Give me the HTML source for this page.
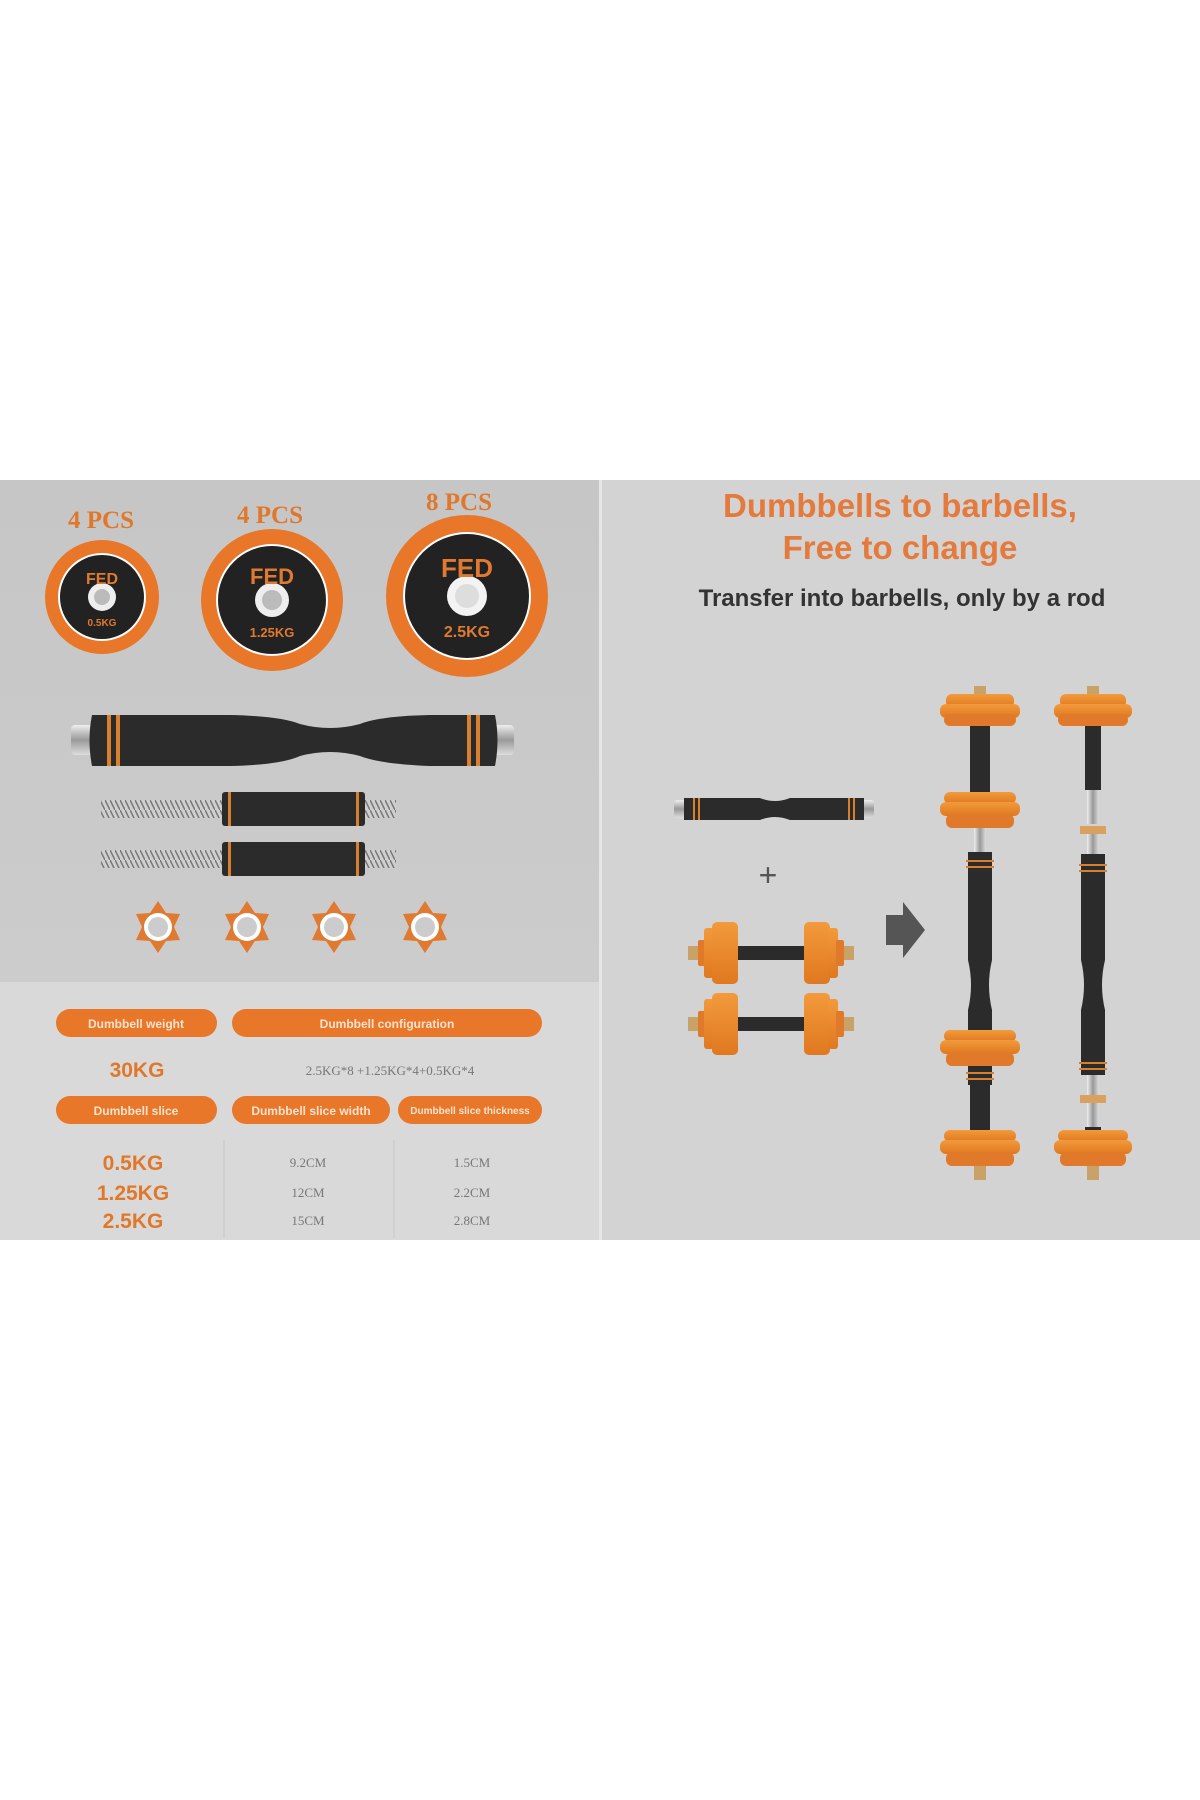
<!DOCTYPE html>
<html><head><meta charset="utf-8"><style>
html,body{margin:0;padding:0;background:#fff;width:1200px;height:1800px;overflow:hidden}
svg{display:block}
</style></head><body>
<svg width="1200" height="1800" viewBox="0 0 1200 1800" xmlns="http://www.w3.org/2000/svg">
<defs>
<linearGradient id="bg" x1="0" y1="0" x2="0" y2="1"><stop offset="0" stop-color="#c6c6c6"/><stop offset="1" stop-color="#cfcfcf"/></linearGradient>
<linearGradient id="or" x1="0" y1="0" x2="0" y2="1"><stop offset="0" stop-color="#f29a3c"/><stop offset="1" stop-color="#e07820"/></linearGradient>
<linearGradient id="chrome" x1="0" y1="0" x2="0" y2="1"><stop offset="0" stop-color="#eee"/><stop offset=".5" stop-color="#999"/><stop offset="1" stop-color="#ddd"/></linearGradient>
<linearGradient id="chromeV" x1="0" y1="0" x2="1" y2="0"><stop offset="0" stop-color="#eee"/><stop offset=".5" stop-color="#999"/><stop offset="1" stop-color="#ddd"/></linearGradient>
<pattern id="thread" width="5" height="10" patternUnits="userSpaceOnUse"><rect width="5" height="10" fill="#cfcfcf"/><line x1="0" y1="0" x2="5" y2="10" stroke="#777" stroke-width="1.5"/></pattern>
</defs>
<rect x="0" y="480" width="600" height="760" fill="url(#bg)"/>
<rect x="0" y="982" width="600" height="258" fill="#d9d9d9"/>
<rect x="602" y="480" width="598" height="760" fill="#d3d3d3"/>
<rect x="599" y="480" width="3" height="760" fill="#e6e6e6"/>

<g font-family="Liberation Serif,serif" font-weight="bold" font-size="25" fill="#e0772a" text-anchor="middle">
<text x="101" y="528">4 PCS</text><text x="270" y="523">4 PCS</text><text x="459" y="510">8 PCS</text>
</g>
<!-- plates -->
<g font-family="Liberation Sans,sans-serif" font-weight="bold" text-anchor="middle" fill="#e07a30">
<circle cx="102" cy="597" r="57" fill="#e8772a"/><circle cx="102" cy="597" r="44" fill="#fff"/><circle cx="102" cy="597" r="42" fill="#222"/><circle cx="102" cy="597" r="14" fill="#eee"/><circle cx="102" cy="597" r="8" fill="#bbb"/>
<text x="102" y="584" font-size="16">FED</text><text x="102" y="626" font-size="10">0.5KG</text>
<circle cx="272" cy="600" r="71" fill="#e8772a"/><circle cx="272" cy="600" r="56" fill="#fff"/><circle cx="272" cy="600" r="54" fill="#222"/><circle cx="272" cy="600" r="17" fill="#eee"/><circle cx="272" cy="600" r="10" fill="#bbb"/>
<text x="272" y="584" font-size="22">FED</text><text x="272" y="637" font-size="13">1.25KG</text>
<circle cx="467" cy="596" r="81" fill="#e8772a"/><circle cx="467" cy="596" r="64" fill="#fff"/><circle cx="467" cy="596" r="62" fill="#222"/><circle cx="467" cy="596" r="20" fill="#f3f3f3"/><circle cx="467" cy="596" r="12" fill="#ddd"/>
<text x="467" y="577" font-size="26">FED</text><text x="467" y="637" font-size="16">2.5KG</text>
</g>
<!-- long bar -->
<rect x="71" y="725" width="30" height="30" rx="4" fill="url(#chrome)"/>
<rect x="484" y="725" width="30" height="30" rx="4" fill="url(#chrome)"/>
<path d="M92 715 L230 715 Q280 716 300 724 Q330 732 360 724 Q380 716 430 715 L495 715 Q500 740 495 766 L430 766 Q380 764 360 756 Q330 748 300 756 Q280 765 230 766 L92 766 Q87 740 92 715Z" fill="#2b2b2b"/>
<g fill="#d9802f"><rect x="107" y="715" width="4" height="51"/><rect x="116" y="715" width="4" height="51"/><rect x="467" y="715" width="4" height="51"/><rect x="476" y="715" width="4" height="51"/></g>
<!-- threaded bars -->
<rect x="101" y="800" width="295" height="18" fill="url(#thread)"/>
<rect x="222" y="792" width="143" height="34" rx="3" fill="#2b2b2b"/><rect x="228" y="792" width="3" height="34" fill="#d9802f"/><rect x="356" y="792" width="3" height="34" fill="#d9802f"/>
<rect x="101" y="850" width="295" height="18" fill="url(#thread)"/>
<rect x="222" y="842" width="143" height="34" rx="3" fill="#2b2b2b"/><rect x="228" y="842" width="3" height="34" fill="#d9802f"/><rect x="356" y="842" width="3" height="34" fill="#d9802f"/>
<!-- star collars -->
<g>
<g transform="translate(158,927)"><polygon points="0,-26 8,-14 22,-13 16,0 22,13 8,14 0,26 -8,14 -22,13 -16,0 -22,-13 -8,-14" fill="#e07a30"/><circle r="14" fill="#fff"/><circle r="10" fill="#ccc"/></g>
<g transform="translate(247,927)"><polygon points="0,-26 8,-14 22,-13 16,0 22,13 8,14 0,26 -8,14 -22,13 -16,0 -22,-13 -8,-14" fill="#e07a30"/><circle r="14" fill="#fff"/><circle r="10" fill="#ccc"/></g>
<g transform="translate(334,927)"><polygon points="0,-26 8,-14 22,-13 16,0 22,13 8,14 0,26 -8,14 -22,13 -16,0 -22,-13 -8,-14" fill="#e07a30"/><circle r="14" fill="#fff"/><circle r="10" fill="#ccc"/></g>
<g transform="translate(425,927)"><polygon points="0,-26 8,-14 22,-13 16,0 22,13 8,14 0,26 -8,14 -22,13 -16,0 -22,-13 -8,-14" fill="#e07a30"/><circle r="14" fill="#fff"/><circle r="10" fill="#ccc"/></g>
</g>
<!-- table -->
<g fill="#e8772a">
<rect x="56" y="1009" width="161" height="28" rx="14"/><rect x="232" y="1009" width="310" height="28" rx="14"/>
<rect x="56" y="1096" width="161" height="28" rx="14"/><rect x="232" y="1096" width="158" height="28" rx="14"/><rect x="398" y="1096" width="144" height="28" rx="14"/>
</g>
<g font-family="Liberation Sans,sans-serif" font-weight="bold" fill="#fbe3cf" text-anchor="middle">
<text x="136" y="1028" font-size="12">Dumbbell weight</text><text x="387" y="1028" font-size="12">Dumbbell configuration</text>
<text x="136" y="1115" font-size="12">Dumbbell slice</text><text x="311" y="1115" font-size="12">Dumbbell slice width</text><text x="470" y="1114" font-size="10">Dumbbell slice thickness</text>
</g>
<g stroke="#c8c8c8" stroke-width="1"><line x1="224" y1="1140" x2="224" y2="1238"/><line x1="394" y1="1140" x2="394" y2="1238"/></g>
<g font-family="Liberation Sans,sans-serif" font-weight="bold" fill="#e0782c" text-anchor="middle" font-size="21">
<text x="137" y="1077">30KG</text><text x="133" y="1170">0.5KG</text><text x="133" y="1200">1.25KG</text><text x="133" y="1228">2.5KG</text>
</g>
<g font-family="Liberation Serif,serif" fill="#777" text-anchor="middle" font-size="13">
<text x="390" y="1075">2.5KG*8 +1.25KG*4+0.5KG*4</text>
<text x="308" y="1167">9.2CM</text><text x="308" y="1197">12CM</text><text x="308" y="1225">15CM</text>
<text x="472" y="1167">1.5CM</text><text x="472" y="1197">2.2CM</text><text x="472" y="1225">2.8CM</text>
</g>

<!-- right -->
<g font-family="Liberation Sans,sans-serif" font-weight="bold" text-anchor="middle">
<text x="900" y="517" font-size="33" fill="#e47a3c">Dumbbells to barbells,</text>
<text x="900" y="559" font-size="33" fill="#e47a3c">Free to change</text>
<text x="902" y="606" font-size="24" fill="#333">Transfer into barbells, only by a rod</text>
</g>
<!-- short bar -->
<rect x="674" y="800" width="14" height="18" rx="3" fill="url(#chrome)"/><rect x="860" y="800" width="14" height="18" rx="3" fill="url(#chrome)"/>
<path d="M684 798 L760 798 Q775 804 790 798 L864 798 L864 820 L790 820 Q775 814 760 820 L684 820Z" fill="#2b2b2b"/>
<g fill="#d9802f"><rect x="693" y="798" width="2" height="22"/><rect x="698" y="798" width="2" height="22"/><rect x="848" y="798" width="2" height="22"/><rect x="853" y="798" width="2" height="22"/></g>
<text x="768" y="886" font-family="Liberation Sans,sans-serif" font-size="32" fill="#555" text-anchor="middle">+</text>
<!-- dumbbells -->
<g id="db">
<rect x="738" y="946" width="66" height="14" fill="#2b2b2b"/>
<rect x="688" y="946" width="12" height="14" fill="#c9a26a"/><rect x="842" y="946" width="12" height="14" fill="#c9a26a"/>
<rect x="698" y="940" width="8" height="26" rx="2" fill="#e07a2a"/><rect x="704" y="928" width="10" height="50" rx="3" fill="url(#or)"/><rect x="712" y="922" width="26" height="62" rx="5" fill="url(#or)"/>
<rect x="804" y="922" width="26" height="62" rx="5" fill="url(#or)"/><rect x="828" y="928" width="10" height="50" rx="3" fill="url(#or)"/><rect x="836" y="940" width="8" height="26" rx="2" fill="#e07a2a"/>
</g>
<use href="#db" y="71"/>
<!-- arrow -->
<polygon points="886,915 903,915 903,902 925,930 903,958 903,945 886,945" fill="#555"/>
<!-- barbell 1 -->
<g>
<rect x="970" y="720" width="20" height="72" fill="#2b2b2b"/>
<rect x="974" y="826" width="12" height="38" fill="url(#chromeV)"/>
<rect x="970" y="1080" width="20" height="70" fill="#2b2b2b"/>
<path d="M968 852 L992 852 L992 960 Q986 985 992 1010 L992 1085 L968 1085 L968 1010 Q974 985 968 960Z" fill="#2b2b2b"/>
<g fill="#d9802f"><rect x="966" y="860" width="28" height="2"/><rect x="966" y="866" width="28" height="2"/><rect x="966" y="1072" width="28" height="2"/><rect x="966" y="1078" width="28" height="2"/></g>
<rect x="974" y="686" width="12" height="10" fill="#c9a26a"/>
<rect x="946" y="694" width="68" height="14" rx="6" fill="url(#or)"/><rect x="940" y="704" width="80" height="14" rx="6" fill="url(#or)"/><rect x="944" y="714" width="72" height="12" rx="6" fill="#e07a2a"/>
<rect x="944" y="792" width="72" height="12" rx="6" fill="url(#or)"/><rect x="940" y="802" width="80" height="14" rx="6" fill="url(#or)"/><rect x="946" y="814" width="68" height="14" rx="6" fill="#e07a2a"/>
<rect x="944" y="1030" width="72" height="12" rx="6" fill="url(#or)"/><rect x="940" y="1040" width="80" height="14" rx="6" fill="url(#or)"/><rect x="946" y="1052" width="68" height="14" rx="6" fill="#e07a2a"/>
<rect x="944" y="1130" width="72" height="12" rx="6" fill="url(#or)"/><rect x="940" y="1140" width="80" height="14" rx="6" fill="url(#or)"/><rect x="946" y="1152" width="68" height="14" rx="6" fill="#e07a2a"/>
<rect x="974" y="1166" width="12" height="14" fill="#c9a26a"/>
</g>
<!-- barbell 2 -->
<g>
<rect x="1085" y="720" width="16" height="70" fill="#2b2b2b"/>
<rect x="1087" y="790" width="12" height="34" fill="url(#chromeV)"/>
<rect x="1080" y="826" width="26" height="8" fill="#d9a060"/>
<rect x="1087" y="834" width="12" height="20" fill="url(#chromeV)"/>
<path d="M1081 854 L1105 854 L1105 960 Q1099 985 1105 1010 L1105 1075 L1081 1075 L1081 1010 Q1087 985 1081 960Z" fill="#2b2b2b"/>
<g fill="#d9802f"><rect x="1079" y="864" width="28" height="2"/><rect x="1079" y="870" width="28" height="2"/><rect x="1079" y="1062" width="28" height="2"/><rect x="1079" y="1068" width="28" height="2"/></g>
<rect x="1087" y="1075" width="12" height="20" fill="url(#chromeV)"/>
<rect x="1080" y="1095" width="26" height="8" fill="#d9a060"/>
<rect x="1087" y="1103" width="12" height="24" fill="url(#chromeV)"/>
<rect x="1085" y="1127" width="16" height="30" fill="#2b2b2b"/>
<rect x="1087" y="686" width="12" height="10" fill="#c9a26a"/>
<rect x="1060" y="694" width="66" height="14" rx="6" fill="url(#or)"/><rect x="1054" y="704" width="78" height="14" rx="6" fill="url(#or)"/><rect x="1058" y="714" width="70" height="12" rx="6" fill="#e07a2a"/>
<rect x="1058" y="1130" width="70" height="12" rx="6" fill="url(#or)"/><rect x="1054" y="1140" width="78" height="14" rx="6" fill="url(#or)"/><rect x="1060" y="1152" width="66" height="14" rx="6" fill="#e07a2a"/>
<rect x="1087" y="1166" width="12" height="14" fill="#c9a26a"/>
</g>
</svg>
</body></html>
